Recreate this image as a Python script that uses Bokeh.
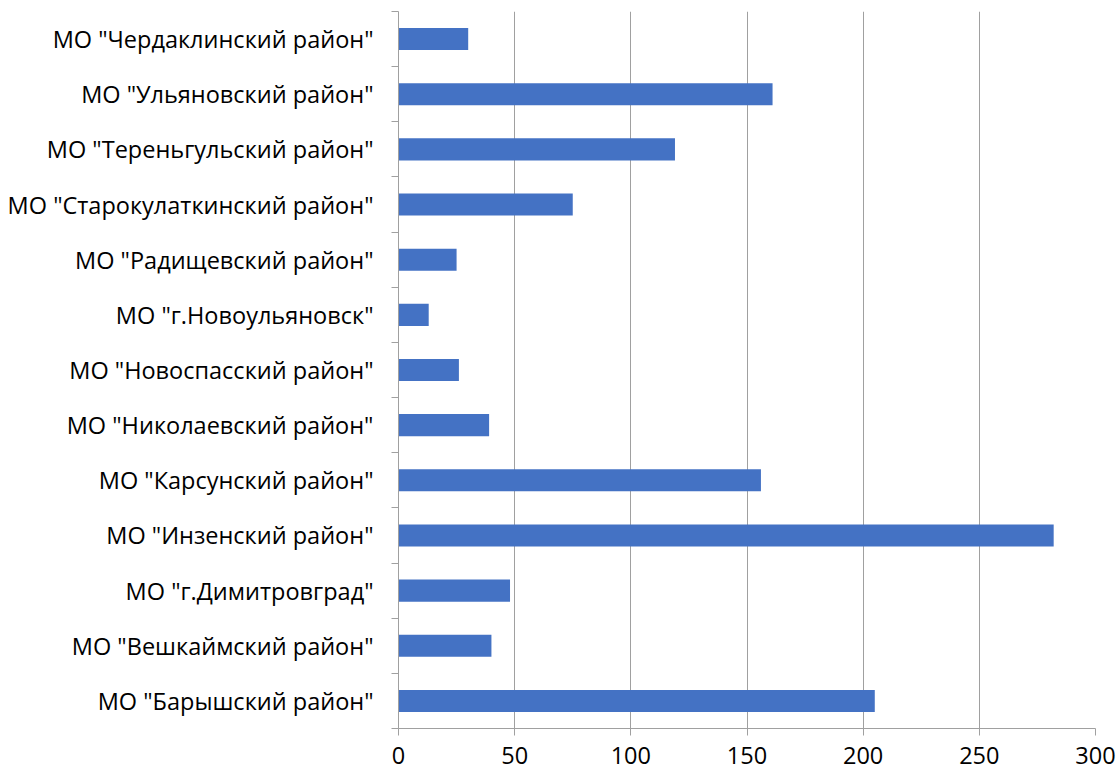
from bokeh.plotting import figure
from bokeh.models import FixedTicker, Range1d
from bokeh.embed import file_html
from bokeh.resources import INLINE

# Data (bottom -> top)
categories = [
    'МО "Барышский район"',
    'МО "Вешкаймский район"',
    'МО "г.Димитровград"',
    'МО "Инзенский район"',
    'МО "Карсунский район"',
    'МО "Николаевский район"',
    'МО "Новоспасский район"',
    'МО "г.Новоульяновск"',
    'МО "Радищевский район"',
    'МО "Старокулаткинский район"',
    'МО "Тереньгульский район"',
    'МО "Ульяновский район"',
    'МО "Чердаклинский район"',
]
values = [205, 40, 48, 282, 156, 39, 26, 13, 25, 75, 119, 161, 30]
x_ticks = [0, 50, 100, 150, 200, 250, 300]

n = len(categories)
centers = [i + 0.5 for i in range(n)]
bounds = [float(i) for i in range(n + 1)]

FONT = "Open Sans"
GRAY = "#a0a0a0"

p = figure(width=1117, height=771, output_backend="svg", toolbar_location=None,
           x_range=Range1d(0, 300), y_range=Range1d(0, n))
p.min_border_left = 398
p.min_border_right = 22
p.min_border_top = 11
p.min_border_bottom = 43
p.outline_line_color = None
p.background_fill_color = "white"
p.border_fill_color = "white"

p.hbar(y=centers, right=values, left=0, height=0.4, fill_color="#4472C4", line_color=None)

# x axis
p.xaxis.ticker = FixedTicker(ticks=x_ticks)
p.xaxis.axis_line_color = GRAY
p.xaxis.major_tick_line_color = GRAY
p.xaxis.major_tick_out = 7
p.xaxis.major_tick_in = 0
p.xaxis.minor_tick_line_color = None
p.xaxis.major_label_text_font = FONT
p.xaxis.major_label_text_font_size = "23.5px"
p.xaxis.major_label_text_color = "#000000"
p.xaxis.major_label_standoff = 11

# y axis
p.yaxis.ticker = FixedTicker(ticks=centers, minor_ticks=bounds)
p.yaxis.major_label_overrides = {c: lab for c, lab in zip(centers, categories)}
p.yaxis.axis_line_color = GRAY
p.yaxis.major_tick_line_color = None
p.yaxis.major_tick_out = 0
p.yaxis.major_tick_in = 0
p.yaxis.minor_tick_line_color = GRAY
p.yaxis.minor_tick_out = 7
p.yaxis.minor_tick_in = 0
p.yaxis.major_label_text_font = FONT
p.yaxis.major_label_text_font_size = "23.5px"
p.yaxis.major_label_text_color = "#000000"
p.yaxis.major_label_standoff = 18

p.xgrid.grid_line_color = GRAY
p.xgrid.grid_line_width = 1
p.ygrid.grid_line_color = None

open("out.html", "w").write(file_html(p, INLINE))
